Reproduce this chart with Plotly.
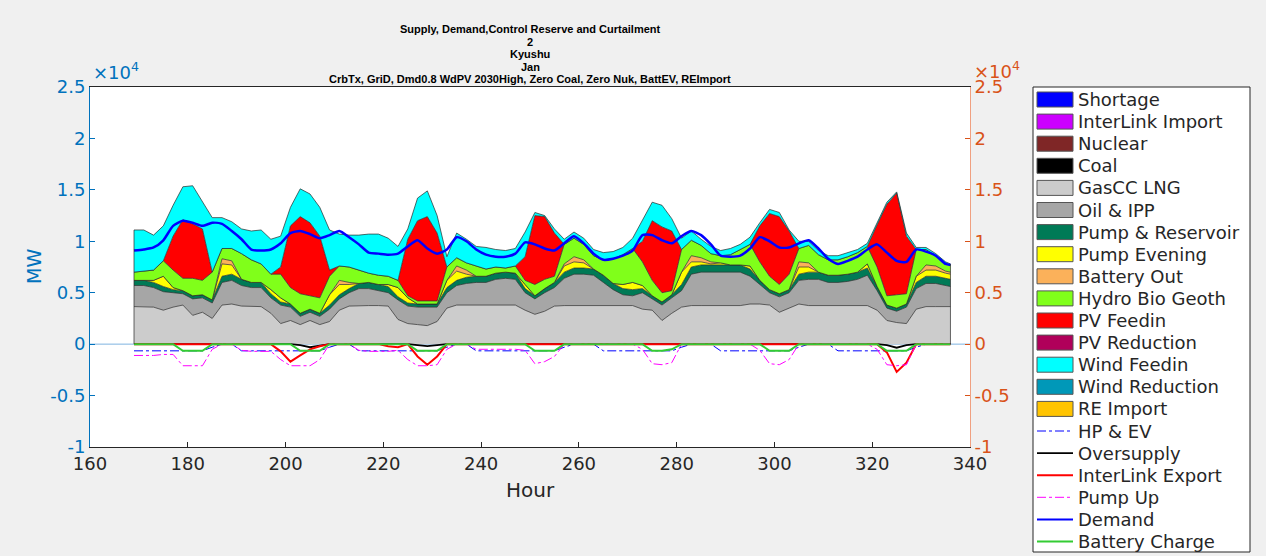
import plotly.graph_objects as go

# ---------------- data (values in units of 10^4 MW) ----------------
HOURS = list(range(169, 336, 2)) + [336]

# cumulative tops of the stacked areas (bottom -> top)
GAS_TOP = ([0.365,0.365,0.36,0.33,0.36,0.38,0.28,0.31,0.25,0.38,0.39,0.37]
         + [0.365,0.365,0.30,0.20,0.23,0.19,0.23,0.19,0.22,0.33,0.37,0.375]
         + [0.375,0.375,0.37,0.24,0.20,0.19,0.18,0.22,0.35,0.38,0.38,0.38]
         + [0.38,0.38,0.38,0.38,0.33,0.29,0.32,0.37,0.375,0.375,0.375,0.375]
         + [0.375,0.375,0.375,0.375,0.34,0.33,0.23,0.30,0.36,0.375,0.375,0.375]
         + [0.375,0.375,0.375,0.39,0.39,0.38,0.31,0.35,0.39,0.375,0.375,0.375]
         + [0.375,0.375,0.375,0.375,0.33,0.23,0.21,0.20,0.34,0.365,0.365,0.365]
         + [0.365])
OIL_TOP = ([0.57,0.57,0.55,0.51,0.50,0.49,0.44,0.45,0.40,0.60,0.62,0.57]
         + [0.55,0.55,0.45,0.38,0.36,0.27,0.31,0.27,0.34,0.44,0.50,0.54]
         + [0.54,0.52,0.50,0.43,0.37,0.36,0.36,0.36,0.50,0.57,0.59,0.60]
         + [0.60,0.63,0.64,0.63,0.50,0.44,0.50,0.55,0.64,0.68,0.68,0.67]
         + [0.60,0.53,0.48,0.47,0.50,0.44,0.38,0.45,0.52,0.68,0.70,0.70]
         + [0.70,0.70,0.70,0.66,0.58,0.50,0.46,0.50,0.62,0.63,0.63,0.60]
         + [0.60,0.61,0.63,0.67,0.52,0.35,0.32,0.36,0.54,0.59,0.59,0.57]
         + [0.56])
PUMPRES_TOP = ([0.62,0.62,0.60,0.56,0.53,0.52,0.47,0.48,0.43,0.66,0.68,0.63]
             + [0.60,0.60,0.49,0.41,0.39,0.30,0.34,0.30,0.38,0.48,0.54,0.59]
             + [0.60,0.58,0.56,0.46,0.40,0.39,0.39,0.39,0.55,0.62,0.65,0.66]
             + [0.66,0.69,0.70,0.69,0.54,0.47,0.54,0.60,0.70,0.74,0.74,0.73]
             + [0.67,0.59,0.54,0.53,0.54,0.47,0.41,0.48,0.58,0.75,0.77,0.77]
             + [0.77,0.77,0.77,0.73,0.62,0.53,0.49,0.53,0.68,0.70,0.70,0.67]
             + [0.67,0.68,0.70,0.74,0.56,0.38,0.35,0.39,0.60,0.66,0.66,0.64]
             + [0.63])
PUMPEVE_TOP = ([0.62,0.62,0.62,0.66,0.55,0.52,0.47,0.48,0.43,0.78,0.77,0.63]
             + [0.60,0.60,0.53,0.45,0.39,0.30,0.34,0.30,0.48,0.58,0.58,0.59]
             + [0.60,0.58,0.58,0.55,0.45,0.39,0.39,0.39,0.62,0.71,0.68,0.66]
             + [0.66,0.69,0.70,0.69,0.58,0.47,0.54,0.60,0.76,0.80,0.79,0.73]
             + [0.67,0.59,0.58,0.60,0.57,0.47,0.41,0.48,0.70,0.80,0.80,0.78]
             + [0.79,0.77,0.77,0.76,0.62,0.53,0.49,0.53,0.75,0.75,0.70,0.67]
             + [0.67,0.68,0.70,0.78,0.56,0.38,0.35,0.39,0.66,0.72,0.72,0.69]
             + [0.68])
BATTOUT_TOP = ([0.62,0.62,0.62,0.66,0.55,0.52,0.47,0.48,0.43,0.83,0.81,0.63]
             + [0.60,0.60,0.53,0.45,0.39,0.30,0.34,0.30,0.48,0.62,0.60,0.59]
             + [0.60,0.58,0.58,0.55,0.45,0.39,0.39,0.39,0.62,0.76,0.72,0.66]
             + [0.66,0.69,0.70,0.69,0.58,0.47,0.54,0.60,0.78,0.85,0.82,0.73]
             + [0.67,0.59,0.58,0.60,0.57,0.47,0.41,0.48,0.70,0.86,0.84,0.80]
             + [0.79,0.77,0.77,0.76,0.62,0.53,0.49,0.53,0.80,0.79,0.70,0.67]
             + [0.67,0.68,0.70,0.78,0.56,0.38,0.35,0.39,0.66,0.77,0.76,0.71]
             + [0.70])
HYDRO_TOP = ([0.70,0.71,0.72,0.81,0.72,0.64,0.64,0.62,0.70,0.93,0.93,0.88]
           + [0.82,0.78,0.68,0.68,0.55,0.49,0.47,0.45,0.66,0.76,0.75,0.72]
           + [0.69,0.67,0.66,0.62,0.47,0.42,0.42,0.42,0.75,0.84,0.79,0.76]
           + [0.73,0.75,0.74,0.76,0.62,0.58,0.63,0.66,0.97,1.03,0.97,0.86]
           + [0.82,0.83,0.87,0.93,0.80,0.62,0.50,0.52,0.92,1.01,0.96,0.88]
           + [0.86,0.87,0.92,0.97,0.80,0.66,0.58,0.68,0.93,0.96,0.87,0.82]
           + [0.82,0.85,0.89,0.95,0.75,0.47,0.48,0.49,0.92,0.92,0.86,0.78]
           + [0.77])
PV_TOP = ([0.70,0.71,0.72,0.81,1.05,1.21,1.17,1.12,0.70,0.93,0.93,0.88]
        + [0.82,0.78,0.68,0.75,1.15,1.24,1.18,1.05,0.72,0.76,0.75,0.72]
        + [0.69,0.67,0.66,0.62,1.02,1.20,1.24,1.08,0.75,0.84,0.79,0.76]
        + [0.73,0.75,0.74,0.76,0.85,1.25,1.24,1.08,0.97,1.03,0.97,0.86]
        + [0.82,0.83,0.87,0.93,1.00,1.20,1.14,1.10,0.92,1.01,0.96,0.88]
        + [0.86,0.87,0.92,0.97,1.15,1.27,1.24,1.10,0.93,0.96,0.87,0.82]
        + [0.82,0.85,0.89,0.95,1.16,1.36,1.47,1.05,0.92,0.92,0.86,0.78]
        + [0.77])
WIND_TOP = ([1.11,1.11,1.06,1.15,1.35,1.53,1.54,1.38,1.23,1.23,1.19,1.12]
          + [1.10,1.11,1.02,1.05,1.33,1.51,1.46,1.33,1.11,1.07,1.06,1.06]
          + [1.07,1.07,1.03,0.95,1.12,1.42,1.49,1.25,0.85,1.08,1.02,0.95]
          + [0.94,0.92,0.91,0.93,1.09,1.28,1.25,1.12,1.02,1.09,1.03,0.92]
          + [0.89,0.90,0.94,1.03,1.20,1.38,1.35,1.22,1.03,1.10,1.02,0.95]
          + [0.91,0.93,0.97,1.04,1.18,1.31,1.28,1.11,1.00,1.00,0.91,0.86]
          + [0.86,0.89,0.92,0.98,1.18,1.38,1.48,1.08,0.94,0.94,0.88,0.80]
          + [0.78])

DEMAND = ([0.91,0.92,0.94,1.01,1.15,1.20,1.18,1.15,1.18,1.17,1.10,1.02]
        + [0.92,0.91,0.92,0.98,1.08,1.10,1.07,1.03,1.06,1.10,1.04,0.97]
        + [0.89,0.88,0.87,0.88,0.95,1.01,0.93,0.88,0.92,1.04,1.00,0.92]
        + [0.87,0.85,0.85,0.88,0.99,0.97,0.93,0.91,0.98,1.05,0.98,0.88]
        + [0.82,0.83,0.86,0.91,1.06,1.06,1.01,0.98,1.05,1.10,1.06,0.97]
        + [0.86,0.85,0.86,0.93,1.04,1.00,0.94,0.94,0.98,1.01,0.93,0.83]
        + [0.78,0.81,0.85,0.92,0.97,0.89,0.81,0.80,0.92,0.90,0.86,0.78]
        + [0.77])

HP_EV = ([-0.065]*8 + [-0.03, 0, 0, -0.065]) * 3 + ([-0.065]*8 + [-0.03, 0, 0, 0]) * 4 + [0]
PUMP_UP = ([-0.11,-0.11,-0.11,-0.10,-0.10,-0.21,-0.21,-0.21,-0.05,0,0,-0.06]
         + [-0.07,-0.07,-0.07,-0.15,-0.21,-0.21,-0.21,-0.15,0,0,0,-0.06]
         + [-0.07,-0.07,-0.07,-0.06,-0.15,-0.21,-0.21,-0.20,-0.05,0,0,-0.05]
         + [-0.05,-0.05,-0.05,-0.05,-0.06,-0.19,-0.17,-0.12,0,0,0,0]
         + [0,0,0,0,-0.05,-0.19,-0.20,-0.18,0,0,0,0]
         + [0,0,0,0,-0.06,-0.19,-0.20,-0.15,0,0,0,0]
         + [0,0,0,0,-0.05,-0.20,-0.21,-0.20,0,0,0,0]
         + [0])
EXPORT = ([0]*12
        + [0,0,0,-0.07,-0.17,-0.11,-0.05,-0.02,0,0,0,0]
        + [0,0,-0.02,-0.03,0,-0.12,-0.20,-0.12,0,0,0,0]
        + [0]*12 + [0]*12 + [0]*12
        + [0,0,0,0,0,-0.08,-0.27,-0.18,0,0,0,0]
        + [0])
OVERSUPPLY = ([0]*12
            + [0,0,0,0,0,-0.01,-0.03,-0.015,0,0,0,0]
            + [0,0,0,0,0,-0.01,-0.02,-0.01,0,0,0,0]
            + [0]*12 + [0]*12 + [0]*12
            + [0,0,0,0,0,-0.01,-0.035,-0.01,0,0,0,0]
            + [0])
BATT_CHARGE = ([0,0,0,0,0,-0.065,-0.065,-0.065,0,0,0,0] * 4
             + [0,0,0,0,0,-0.065,-0.065,-0.05,0,0,0,0]
             + [0,0,0,0,0,-0.065,-0.065,-0.065,0,0,0,0] * 2
             + [0])

LEGEND_NAMES = ["Shortage", "InterLink Import", "Nuclear", "Coal", "GasCC LNG", "Oil & IPP",
                "Pump & Reservoir", "Pump Evening", "Battery Out", "Hydro Bio Geoth", "PV Feedin",
                "PV Reduction", "Wind Feedin", "Wind Reduction", "RE Import",
                "HP & EV", "Oversupply", "InterLink Export", "Pump Up", "Demand", "Battery Charge"]
AREA_COLORS = ["#0000FF", "#CC00FF", "#7F2626", "#000000", "#CCCCCC", "#A6A6A6", "#007A56",
               "#FFFF00", "#FBB15A", "#80FF1A", "#FF0000", "#B0005A", "#00FFFF", "#0098B8", "#FFC400"]
LINE_COLORS = ["#0000FF", "#000000", "#FF0000", "#FF00FF", "#0000FF", "#33CC33"]
LINE_DASH = ["dashdot", "solid", "solid", "dashdot", "solid", "solid"]
LINE_W = [1, 1.8, 2, 1, 2.5, 2]

TITLE_LINES = ["Supply, Demand,Control Reserve and Curtailment", "2", "Kyushu", "Jan",
               "CrbTx, GriD, Dmd0.8 WdPV 2030High, Zero Coal, Zero Nuk, BattEV, REImport"]
X_TICKS = list(range(160, 341, 20))
Y_TICKS = [-1, -0.5, 0, 0.5, 1, 1.5, 2, 2.5]
Y_TICKTEXT = ["-1", "-0.5", "0", "0.5", "1", "1.5", "2", "2.5"]

# ---------------- figure ----------------
W, H = 1266, 556
ML, MR, MT, MB = 90, 296, 87, 109
PW, PH = W - ML - MR, H - MT - MB


def px2x(px):
    return (px - ML) / PW


def py2y(py):
    return 1 - (py - MT) / PH


FONT = "DejaVu Sans"
EDGE = "rgba(45,45,45,0.9)"

fig = go.Figure()

stack = [("GasCC LNG", GAS_TOP, AREA_COLORS[4]),
         ("Oil & IPP", OIL_TOP, AREA_COLORS[5]),
         ("Pump & Reservoir", PUMPRES_TOP, AREA_COLORS[6]),
         ("Pump Evening", PUMPEVE_TOP, AREA_COLORS[7]),
         ("Battery Out", BATTOUT_TOP, AREA_COLORS[8]),
         ("Hydro Bio Geoth", HYDRO_TOP, AREA_COLORS[9]),
         ("PV Feedin", PV_TOP, AREA_COLORS[10]),
         ("Wind Feedin", WIND_TOP, AREA_COLORS[12])]
for i, (name, top, col) in enumerate(stack):
    fig.add_trace(go.Scatter(x=HOURS, y=top, name=name, mode="lines",
                             fill="tozeroy" if i == 0 else "tonexty",
                             fillcolor=col, line=dict(color=EDGE, width=0.8),
                             showlegend=False))

lines = [("HP & EV", HP_EV), ("Oversupply", OVERSUPPLY), ("InterLink Export", EXPORT),
         ("Pump Up", PUMP_UP), ("Demand", DEMAND), ("Battery Charge", BATT_CHARGE)]
for j, (name, vals) in enumerate(lines):
    fig.add_trace(go.Scatter(x=HOURS, y=vals, name=name, mode="lines",
                             line=dict(color=LINE_COLORS[j], width=LINE_W[j], dash=LINE_DASH[j],
                                       shape="spline" if name == "Demand" else "linear",
                                       smoothing=0.6 if name == "Demand" else None),
                             showlegend=False,
                             yaxis="y2" if name == "Battery Charge" else "y"))

shapes = []
annotations = []

# zero line
shapes.append(dict(type="line", xref="x", yref="y", x0=160, x1=340, y0=0, y1=0,
                   line=dict(color="#7FB3E0", width=1), layer="below"))
# side edges of the stacked block
shapes.append(dict(type="line", xref="x", yref="y", x0=HOURS[0], x1=HOURS[0], y0=0,
                   y1=WIND_TOP[0], line=dict(color=EDGE, width=0.8)))
shapes.append(dict(type="line", xref="x", yref="y", x0=HOURS[-1], x1=HOURS[-1], y0=0,
                   y1=WIND_TOP[-1], line=dict(color=EDGE, width=0.8)))

# custom legend
LX0, LX1 = 1033, 1250
LY0, LY1 = 87, 552
shapes.append(dict(type="rect", xref="paper", yref="paper",
                   x0=px2x(LX0), x1=px2x(LX1), y0=py2y(LY1), y1=py2y(LY0),
                   line=dict(color="#262626", width=1), fillcolor="white", layer="above"))
for k, name in enumerate(LEGEND_NAMES):
    cy = 99.5 + 22.1 * k
    if k < 15:
        shapes.append(dict(type="rect", xref="paper", yref="paper",
                           x0=px2x(1037), x1=px2x(1073), y0=py2y(cy + 7.5), y1=py2y(cy - 7.5),
                           fillcolor=AREA_COLORS[k], line=dict(color="#555555", width=1),
                           layer="above"))
    else:
        j = k - 15
        shapes.append(dict(type="line", xref="paper", yref="paper",
                           x0=px2x(1037), x1=px2x(1073), y0=py2y(cy), y1=py2y(cy),
                           line=dict(color=LINE_COLORS[j], width=min(LINE_W[j], 2),
                                     dash=LINE_DASH[j]), layer="above"))
    annotations.append(dict(text=name, xref="paper", yref="paper", x=px2x(1076), y=py2y(cy),
                            xanchor="left", yanchor="middle", showarrow=False,
                            font=dict(family=FONT, size=18, color="#262626")))

# title lines
for t, (line, py) in enumerate(zip(TITLE_LINES, [29.5, 42, 54.3, 66.5, 78.7])):
    annotations.append(dict(text="<b>" + line + "</b>", xref="paper", yref="paper",
                            x=px2x(530), y=py2y(py), xanchor="center", yanchor="middle",
                            showarrow=False,
                            font=dict(family="Liberation Sans", size=11, color="black")))

# exponent labels
annotations.append(dict(text="\u00d710<sup>4</sup>", xref="paper", yref="paper",
                        x=px2x(91), y=py2y(85), xanchor="left", yanchor="bottom",
                        showarrow=False, font=dict(family=FONT, size=18, color="#0072BD")))
annotations.append(dict(text="\u00d710<sup>4</sup>", xref="paper", yref="paper",
                        x=px2x(972), y=py2y(84), xanchor="left", yanchor="bottom",
                        showarrow=False, font=dict(family=FONT, size=18, color="#D95319")))
# axis titles
annotations.append(dict(text="MW", xref="paper", yref="paper", x=px2x(34), y=py2y(267),
                        xanchor="center", yanchor="middle", textangle=-90, showarrow=False,
                        font=dict(family=FONT, size=19, color="#0072BD")))
annotations.append(dict(text="Hour", xref="paper", yref="paper", x=px2x(530), y=py2y(490),
                        xanchor="center", yanchor="middle", showarrow=False,
                        font=dict(family=FONT, size=20, color="#262626")))

fig.update_layout(
    width=W, height=H,
    margin=dict(l=ML, r=MR, t=MT, b=MB),
    paper_bgcolor="#F0F0F0", plot_bgcolor="white",
    showlegend=False,
    font=dict(family=FONT, size=18, color="#262626"),
    xaxis=dict(range=[160, 340], tickvals=X_TICKS, ticks="inside", ticklen=5,
               tickcolor="#262626", showline=True, linecolor="#262626", linewidth=1,
               mirror=True, showgrid=False, zeroline=False,
               tickfont=dict(family=FONT, size=18, color="#262626")),
    yaxis=dict(range=[-1, 2.5], tickvals=Y_TICKS, ticktext=Y_TICKTEXT, ticks="inside",
               ticklen=5, tickcolor="#0072BD", showline=True, linecolor="#0072BD",
               linewidth=1, showgrid=False, zeroline=False,
               tickfont=dict(family=FONT, size=18, color="#0072BD")),
    yaxis2=dict(range=[-1, 2.5], tickvals=Y_TICKS, ticktext=Y_TICKTEXT, ticks="inside",
                ticklen=5, tickcolor="#D95319", showline=True, linecolor="#F0A080",
                linewidth=1, showgrid=False, zeroline=False, overlaying="y", side="right",
                tickfont=dict(family=FONT, size=18, color="#D95319")),
    shapes=shapes, annotations=annotations,
)

fig.write_html("out.html", config={"displayModeBar": False},
               post_script="document.body.style.margin='0px';document.body.style.overflow='hidden';")
